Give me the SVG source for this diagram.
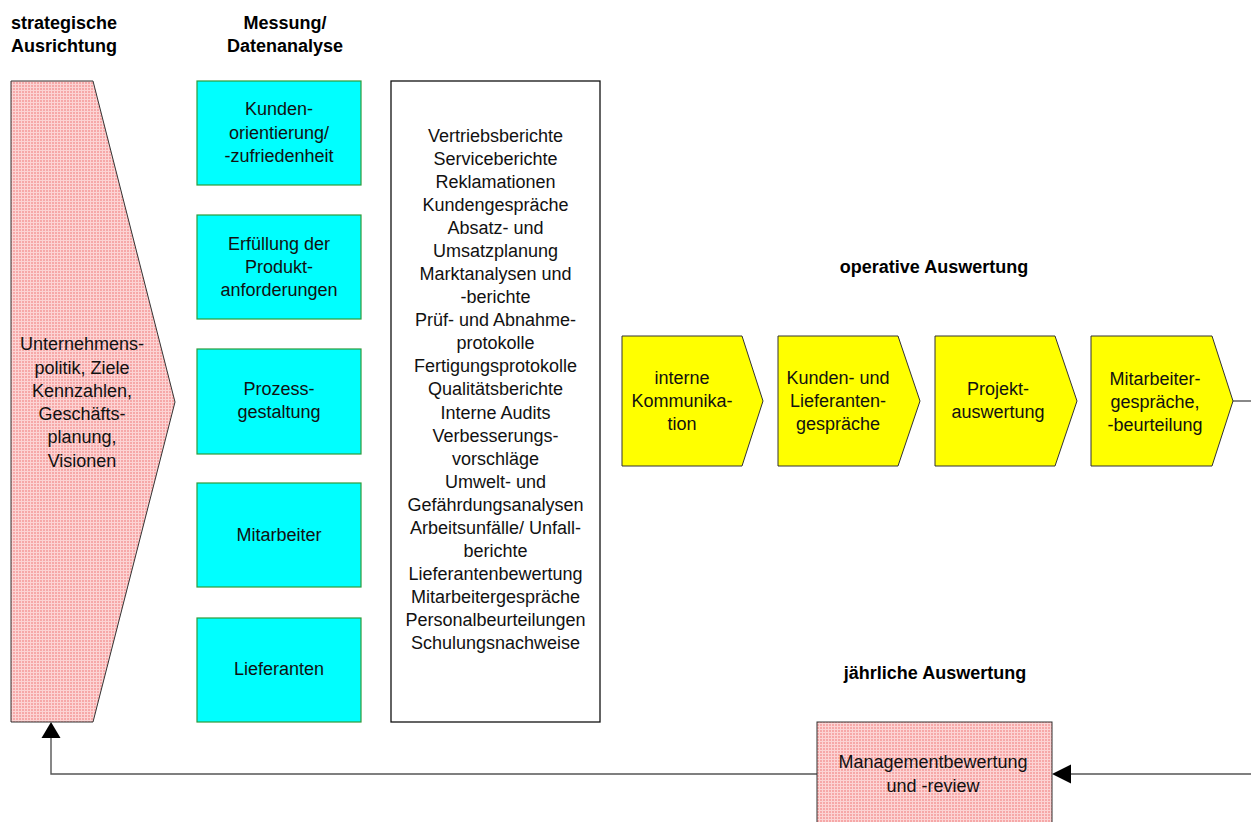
<svg xmlns="http://www.w3.org/2000/svg" width="1251" height="822" viewBox="0 0 1251 822">
<defs>
<pattern id="pinkGrid" width="3" height="3" patternUnits="userSpaceOnUse">
<rect width="3" height="3" fill="#f6a8a8"/>
<rect x="0" y="0" width="3" height="1" fill="#fcd4d4"/>
<rect x="0" y="0" width="1" height="3" fill="#fcd4d4"/>
</pattern>
</defs>
<style>
.t{font-family:"Liberation Sans",Arial,sans-serif;font-size:18px;fill:#111;text-anchor:middle}
.h{font-family:"Liberation Sans",Arial,sans-serif;font-size:18px;font-weight:bold;fill:#000}
.pink{fill:url(#pinkGrid);stroke:#333;stroke-width:1}
.cyan{fill:#00ffff;stroke:#2e9b3a;stroke-width:1.2}
.yellow{fill:#ffff00;stroke:#333;stroke-width:1}
.plain{fill:#fff;stroke:#111;stroke-width:1.3}
.conn{fill:none;stroke:#555;stroke-width:1.4}
</style>
<rect width="1251" height="822" fill="#fff"/>

<g id="headers">
<text class="h" x="11" y="29">strategische</text>
<text class="h" x="11" y="52">Ausrichtung</text>
<text class="h" x="285" y="29" text-anchor="middle">Messung/</text>
<text class="h" x="285" y="52" text-anchor="middle">Datenanalyse</text>
<text class="h" x="934" y="273" text-anchor="middle">operative Auswertung</text>
<text class="h" x="935" y="679" text-anchor="middle">jährliche Auswertung</text>
</g>

<g id="connectors">
<polyline class="conn" points="817,774 51,774 51,737"/>
<path d="M51,722 L60.5,738 L41.5,738 Z" fill="#000"/>
<line class="conn" x1="1251" y1="774" x2="1070" y2="774"/>
<path d="M1052,774 L1071,764.5 L1071,783.5 Z" fill="#000"/>
<line class="conn" x1="1233" y1="401" x2="1251" y2="401"/>
</g>

<g id="node-strategie">
<polygon class="pink" points="11,81 93,81 175,402 93,722 11,722"/>
<text class="t" x="82" y="350">Unternehmens-</text>
<text class="t" x="82" y="374">politik, Ziele</text>
<text class="t" x="82" y="397">Kennzahlen,</text>
<text class="t" x="82" y="420">Geschäfts-</text>
<text class="t" x="82" y="443">planung,</text>
<text class="t" x="82" y="467">Visionen</text>
</g>

<g id="node-kunden">
<rect class="cyan" x="197" y="81" width="164" height="104"/>
<text class="t" x="279" y="115">Kunden-</text>
<text class="t" x="279" y="139">orientierung/</text>
<text class="t" x="279" y="162">-zufriedenheit</text>
</g>
<g id="node-produkt">
<rect class="cyan" x="197" y="215" width="164" height="104"/>
<text class="t" x="279" y="250">Erfüllung der</text>
<text class="t" x="279" y="273">Produkt-</text>
<text class="t" x="279" y="296">anforderungen</text>
</g>
<g id="node-prozess">
<rect class="cyan" x="197" y="349" width="164" height="105"/>
<text class="t" x="279" y="395">Prozess-</text>
<text class="t" x="279" y="418">gestaltung</text>
</g>
<g id="node-mitarbeiter">
<rect class="cyan" x="197" y="483" width="164" height="104"/>
<text class="t" x="279" y="541">Mitarbeiter</text>
</g>
<g id="node-lieferanten">
<rect class="cyan" x="197" y="618" width="164" height="104"/>
<text class="t" x="279" y="675">Lieferanten</text>
</g>

<g id="node-datenquellen">
<rect class="plain" x="391" y="81" width="209" height="641"/>
<text class="t" x="495.5" y="142">Vertriebsberichte</text>
<text class="t" x="495.5" y="165">Serviceberichte</text>
<text class="t" x="495.5" y="188">Reklamationen</text>
<text class="t" x="495.5" y="211">Kundengespräche</text>
<text class="t" x="495.5" y="234">Absatz- und</text>
<text class="t" x="495.5" y="257">Umsatzplanung</text>
<text class="t" x="495.5" y="280">Marktanalysen und</text>
<text class="t" x="495.5" y="303">-berichte</text>
<text class="t" x="495.5" y="326">Prüf- und Abnahme-</text>
<text class="t" x="495.5" y="349">protokolle</text>
<text class="t" x="495.5" y="372">Fertigungsprotokolle</text>
<text class="t" x="495.5" y="395">Qualitätsberichte</text>
<text class="t" x="495.5" y="419">Interne Audits</text>
<text class="t" x="495.5" y="442">Verbesserungs-</text>
<text class="t" x="495.5" y="465">vorschläge</text>
<text class="t" x="495.5" y="488">Umwelt- und</text>
<text class="t" x="495.5" y="511">Gefährdungsanalysen</text>
<text class="t" x="495.5" y="534">Arbeitsunfälle/ Unfall-</text>
<text class="t" x="495.5" y="557">berichte</text>
<text class="t" x="495.5" y="580">Lieferantenbewertung</text>
<text class="t" x="495.5" y="603">Mitarbeitergespräche</text>
<text class="t" x="495.5" y="626">Personalbeurteilungen</text>
<text class="t" x="495.5" y="649">Schulungsnachweise</text>
</g>

<g id="node-interne-kommunikation">
<polygon class="yellow" points="622,336 742,336 763,401 742,466 622,466"/>
<text class="t" x="682" y="384">interne</text>
<text class="t" x="682" y="407">Kommunika-</text>
<text class="t" x="682" y="430">tion</text>
</g>
<g id="node-kunden-lieferanten">
<polygon class="yellow" points="778,336 898,336 920,401 898,466 778,466"/>
<text class="t" x="838" y="384">Kunden- und</text>
<text class="t" x="838" y="407">Lieferanten-</text>
<text class="t" x="838" y="430">gespräche</text>
</g>
<g id="node-projekt">
<polygon class="yellow" points="935,336 1055,336 1077,401 1055,466 935,466"/>
<text class="t" x="998" y="395">Projekt-</text>
<text class="t" x="998" y="418">auswertung</text>
</g>
<g id="node-mitarbeitergespraeche">
<polygon class="yellow" points="1091,336 1212,336 1233,401 1212,466 1091,466"/>
<text class="t" x="1155" y="385">Mitarbeiter-</text>
<text class="t" x="1155" y="408">gespräche,</text>
<text class="t" x="1155" y="431">-beurteilung</text>
</g>

<g id="node-management">
<rect class="pink" x="817" y="722" width="235" height="110"/>
<text class="t" x="933" y="768">Managementbewertung</text>
<text class="t" x="933" y="792">und -review</text>
</g>
</svg>
